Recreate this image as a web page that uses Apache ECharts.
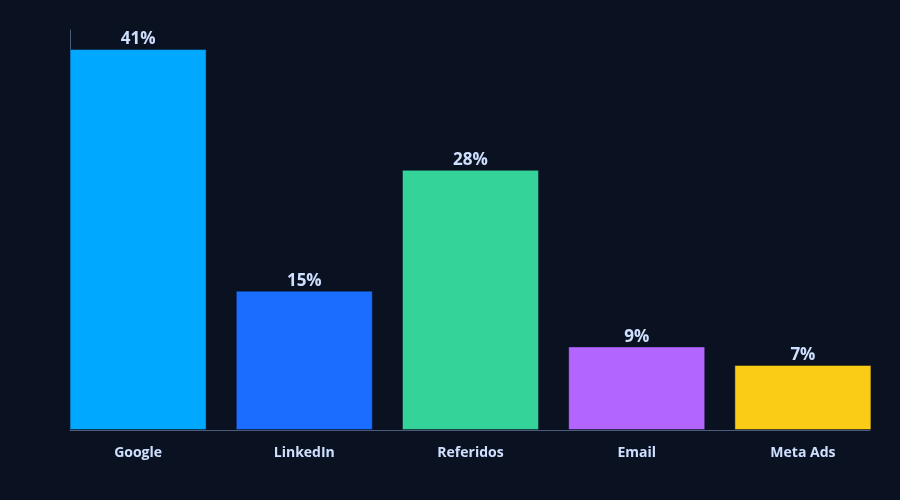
<!DOCTYPE html>
<html>
<head>
<meta charset="utf-8">
<script src="https://cdn.jsdelivr.net/npm/echarts@6/dist/echarts.min.js"></script>
<style>
  html, body { margin: 0; padding: 0; background: #0a1121; }
  #chart { width: 900px; height: 500px; }
</style>
</head>
<body>
<div id="chart"></div>
<script>
const categories = ['Google', 'LinkedIn', 'Referidos', 'Email', 'Meta Ads']
const shares = [41, 15, 28, 9, 7]
const barColors = ['#00a8ff', '#1a6dff', '#34d399', '#b366ff', '#facc15']

const labelColor = '#cfe0ff'
const axisColor = '#4a5b7c'

const chart = echarts.init(document.getElementById('chart'))

const option = {
    backgroundColor: '#0a1121',
    textStyle: { fontFamily: 'Open Sans, sans-serif' },
    grid: [
        // bars live here
        { left: 55, right: 14, top: 30, bottom: 70 },
        // only draws the axis lines
        { left: 70, right: 30, top: 30, bottom: 70 }
    ],
    xAxis: [
        {
            type: 'category', gridIndex: 0, data: categories,
            axisLine: { show: false }, axisTick: { show: false },
            axisLabel: { color: labelColor, fontSize: 14, fontWeight: 'bold', margin: 16 }
        },
        {
            type: 'category', gridIndex: 1, data: categories,
            axisLine: { lineStyle: { color: axisColor, width: 1 } },
            axisTick: { show: false }, axisLabel: { show: false }
        }
    ],
    yAxis: [
        {
            type: 'value', gridIndex: 0, min: 0, max: v => v.max * 1.05,
            axisLine: { show: false }, axisLabel: { show: false },
            axisTick: { show: false }, splitLine: { show: false }
        },
        {
            type: 'value', gridIndex: 1, min: 0, max: 1,
            axisLine: { show: true, lineStyle: { color: axisColor, width: 1 } },
            axisLabel: { show: false }, axisTick: { show: false }, splitLine: { show: false }
        }
    ],
    series: [{
        type: 'bar',
        xAxisIndex: 0, yAxisIndex: 0,
        barWidth: 137,
        data: shares.map((v, i) => ({
            value: v,
            itemStyle: { color: barColors[i] }
        })),
        itemStyle: { borderColor: 'rgba(11,17,32,0.45)', borderWidth: 1 },
        label: {
            show: true, position: 'top', distance: 1,
            formatter: '{c}%', color: labelColor,
            fontSize: 17, fontWeight: 'bold'
        },
        z: 1
    }]
}

chart.setOption(option)
</script>
</body>
</html>
